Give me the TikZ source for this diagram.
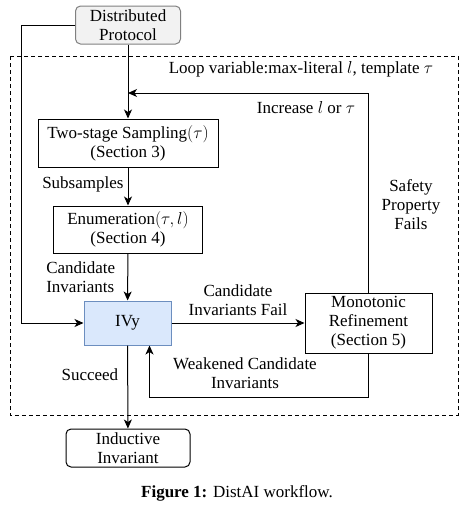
\documentclass[tikz,border=0pt]{standalone}
\usepackage{fontspec}
\setmainfont{Liberation Serif}
\usepackage{amsmath}
\usetikzlibrary{arrows.meta}
\definecolor{ivyfill}{RGB}{218,232,252}
\definecolor{ivyline}{RGB}{108,142,191}

\begin{document}
\begin{tikzpicture}[x=1pt,y=-1pt,line width=1pt,>={Stealth[length=9pt,width=8pt,inset=2.5pt]},
	every node/.style={font=\fontsize{17}{19}\selectfont},
	box/.style={draw,fill=white,align=center,inner sep=0pt},
	lbl/.style={align=center,inner sep=0pt}]
	\useasboundingbox (0,0) rectangle (475,507);
	% loop region
	\draw[line width=0.9pt, dash pattern=on 4pt off 3pt] (10,56) rectangle (458,415);
	\node[lbl] at (301,69) {Loop variable:max-literal $l$, template $\tau$};

	\node[box, rounded corners=5pt, draw=gray, fill=gray!10, minimum width=105pt, minimum height=38pt] (proto) at (128,25) {Distributed\\Protocol};
	\node[box, minimum width=180pt, minimum height=48pt] (sampling) at (128,143) {Two-stage Sampling$(\tau)$\\(Section 3)};
	\node[box, minimum width=149pt, minimum height=47pt] (enum) at (128,229.5) {Enumeration$(\tau,l)$\\(Section 4)};
	\node[box, draw=ivyline, fill=ivyfill, minimum width=87pt, minimum height=44pt] (ivy) at (127.5,323) {IVy};
	\node[box, minimum width=127pt, minimum height=60pt] (refine) at (368.5,323) {Monotonic\\Refinement\\(Section 5)};
	\node[box, rounded corners=5pt, minimum width=124pt, minimum height=38pt] (inductive) at (128,448) {Inductive\\Invariant};
	\coordinate (loop) at (128,93);

	\draw[->] (proto) -- (sampling);
	\draw[->] (sampling) -- (enum) node[lbl, pos=0.45, left=4pt] {Subsamples};
	\draw[->] (enum) -- (ivy) node[lbl, align=left, midway, left=12pt] {Candidate\\Invariants};
	\draw[->] (ivy) -- (inductive) node[lbl, pos=0.35, left=9pt] {Succeed};
	\draw[->] (ivy) -- (refine) node[lbl, midway, above=7pt] {Candidate\\Invariants Fail};
	\draw[->] (proto.west) -- ++(-54,0) |- (ivy.west);
	\draw[->] (refine.north) |- (loop);
	\draw[->] (refine.south) -- ++(0,44) -| ([xshift=22pt]ivy.south);
	\node[lbl] at (306,108) {Increase $l$ or $\tau$};
	\node[lbl] at (411,205) {Safety\\Property\\Fails};
	\node[lbl] at (245,373) {Weakened Candidate\\Invariants};

	\node[lbl] (caption) at (237,493) {\textbf{Figure 1:} DistAI workflow.};
\end{tikzpicture}
\end{document}
